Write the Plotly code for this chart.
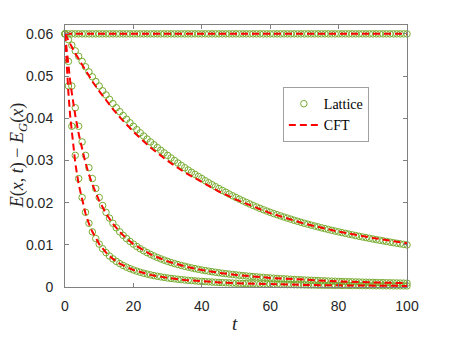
import plotly.graph_objects as go

# lattice sampling times (one point per unit time)
t = list(range(0, 101))

# lattice data, one list per quench
lat_const = [0.06] * 101

lat_slow = [
    0.06000, 0.05862, 0.05731, 0.05597, 0.05469, 0.05347, 0.05220, 0.05099, 0.04982, 0.04871,
    0.04764, 0.04651, 0.04552, 0.04448, 0.04347, 0.04249, 0.04155, 0.04064, 0.03977, 0.03892,
    0.03810, 0.03730, 0.03654, 0.03579, 0.03507, 0.03438, 0.03370, 0.03305, 0.03241, 0.03180,
    0.03120, 0.03058, 0.02998, 0.02939, 0.02882, 0.02827, 0.02773, 0.02720, 0.02669, 0.02619,
    0.02570, 0.02520, 0.02472, 0.02424, 0.02378, 0.02333, 0.02289, 0.02246, 0.02203, 0.02162,
    0.02122, 0.02082, 0.02043, 0.02005, 0.01968, 0.01932, 0.01898, 0.01865, 0.01832, 0.01801,
    0.01770, 0.01741, 0.01713, 0.01686, 0.01659, 0.01633, 0.01608, 0.01582, 0.01558, 0.01534,
    0.01510, 0.01488, 0.01466, 0.01445, 0.01424, 0.01403, 0.01383, 0.01364, 0.01344, 0.01325,
    0.01307, 0.01288, 0.01271, 0.01253, 0.01236, 0.01219, 0.01202, 0.01186, 0.01170, 0.01154,
    0.01138, 0.01123, 0.01108, 0.01094, 0.01079, 0.01065, 0.01051, 0.01037, 0.01024, 0.01010,
    0.00997,
]

lat_mid = [
    0.06000, 0.05347, 0.04764, 0.04249, 0.03810, 0.03438, 0.03120, 0.02827, 0.02570, 0.02333,
    0.02122, 0.01932, 0.01770, 0.01633, 0.01510, 0.01403, 0.01307, 0.01224, 0.01148, 0.01080,
    0.01017, 0.009600, 0.009074, 0.008590, 0.008144, 0.007732, 0.007350, 0.006996, 0.006667, 0.006360,
    0.006074, 0.005807, 0.005558, 0.005324, 0.005104, 0.004898, 0.004704, 0.004521, 0.004349, 0.004187,
    0.004033, 0.003888, 0.003750, 0.003620, 0.003496, 0.003378, 0.003267, 0.003160, 0.003059, 0.002963,
    0.002871, 0.002783, 0.002700, 0.002620, 0.002543, 0.002470, 0.002400, 0.002333, 0.002269, 0.002207,
    0.002148, 0.002091, 0.002036, 0.001983, 0.001933, 0.001884, 0.001838, 0.001792, 0.001749, 0.001707,
    0.001667, 0.001628, 0.001590, 0.001554, 0.001519, 0.001485, 0.001452, 0.001420, 0.001389, 0.001360,
    0.001331, 0.001303, 0.001276, 0.001250, 0.001224, 0.001200, 0.001176, 0.001153, 0.001130, 0.001108,
    0.001087, 0.001067, 0.001047, 0.001027, 0.001008, 0.000990, 0.000972, 0.000954, 0.000938, 0.000921,
    0.000905,
]

lat_fast = [
    0.06000, 0.04764, 0.03810, 0.03120, 0.02570, 0.02122, 0.01770, 0.01510, 0.01307, 0.01148,
    0.01017, 0.009074, 0.008144, 0.007350, 0.006667, 0.006074, 0.005558, 0.005104, 0.004704, 0.004349,
    0.004033, 0.003750, 0.003496, 0.003267, 0.003059, 0.002871, 0.002700, 0.002543, 0.002400, 0.002269,
    0.002148, 0.002036, 0.001933, 0.001838, 0.001749, 0.001667, 0.001590, 0.001519, 0.001452, 0.001389,
    0.001331, 0.001276, 0.001224, 0.001176, 0.001130, 0.001087, 0.001047, 0.001008, 0.000972, 0.000938,
    0.000905, 0.000874, 0.000845, 0.000817, 0.000790, 0.000765, 0.000741, 0.000718, 0.000696, 0.000675,
    0.000655, 0.000636, 0.000618, 0.000600, 0.000583, 0.000567, 0.000552, 0.000537, 0.000523, 0.000509,
    0.000496, 0.000483, 0.000471, 0.000459, 0.000448, 0.000437, 0.000427, 0.000417, 0.000407, 0.000398,
    0.000388, 0.000380, 0.000371, 0.000363, 0.000355, 0.000347, 0.000340, 0.000333, 0.000326, 0.000319,
    0.000312, 0.000306, 0.000300, 0.000294, 0.000288, 0.000283, 0.000277, 0.000272, 0.000267, 0.000262,
    0.000257,
]

# CFT curves (sampled more finely at early times)
t_cft = [0, 0.25, 0.5, 0.75, 1, 1.5, 2, 2.5, 3, 4, 5, 6, 7, 8, 10, 12, 14, 16, 18, 20,
         25, 30, 35, 40, 45, 50, 60, 70, 80, 90, 100]

cft_const = [0.06] * len(t_cft)

cft_slow = [0.06, 0.05957, 0.05915, 0.05873, 0.05842, 0.05761, 0.05691, 0.05613, 0.05537, 0.05399,
            0.05257, 0.05130, 0.04999, 0.04872, 0.04644, 0.04422, 0.04217, 0.04025, 0.03847, 0.03680,
            0.03308, 0.02990, 0.02717, 0.02480, 0.02263, 0.02072, 0.01750, 0.01500, 0.01312, 0.01163,
            0.01037]

cft_mid = [0.06, 0.05791, 0.05593, 0.05405, 0.05227, 0.04895, 0.04594, 0.04320, 0.04069, 0.03630,
           0.03258, 0.02940, 0.02667, 0.02430, 0.02042, 0.01740, 0.01500, 0.01307, 0.01148, 0.01017,
           0.007732, 0.006074, 0.004898, 0.004033, 0.003378, 0.002871, 0.002148, 0.001667, 0.001331, 0.001087,
           0.000905]

cft_fast = [0.06, 0.05593, 0.05227, 0.04895, 0.04594, 0.04069, 0.03630, 0.03258, 0.02940, 0.02430,
            0.02042, 0.01740, 0.01500, 0.01307, 0.01017, 0.008144, 0.006667, 0.005558, 0.004704, 0.004033,
            0.002871, 0.002148, 0.001667, 0.001331, 0.001087, 0.000905, 0.000655, 0.000496, 0.000388, 0.000312,
            0.000257]

green = "#77AC30"
red = "#FF0000"
axis_gray = "#808080"
text_col = "#262626"

fig = go.Figure()

# lattice first, so the red dashes sit on top of the circles
for i, ys in enumerate([lat_const, lat_slow, lat_mid, lat_fast]):
    fig.add_trace(go.Scatter(
        x=t, y=ys, mode="markers", name="Lattice",
        showlegend=(i == 0), cliponaxis=False,
        marker=dict(symbol="circle-open", size=6.5, color=green, line=dict(width=1, color=green)),
    ))

for i, ys in enumerate([cft_const, cft_slow, cft_mid, cft_fast]):
    fig.add_trace(go.Scatter(
        x=t_cft, y=ys, mode="lines", name="CFT",
        showlegend=(i == 0),
        line=dict(color=red, width=2, dash="7px,4px"),
    ))

axis_common = dict(
    showline=True, linecolor=axis_gray, linewidth=1, mirror="ticks",
    ticks="inside", ticklen=4, tickcolor=axis_gray, tickwidth=1,
    showgrid=False, zeroline=False,
    tickfont=dict(family="Liberation Sans, Arial, sans-serif", size=14, color=text_col),
)

# the page body adds an 8px offset, so margins are 8px smaller on left/top
fig.update_layout(
    width=450, height=338,
    margin=dict(l=57, r=51, t=17, b=59),
    paper_bgcolor="white", plot_bgcolor="white",
    xaxis=dict(range=[0, 100], tickvals=[0, 20, 40, 60, 80, 100], ticklabelstandoff=6, **axis_common),
    yaxis=dict(range=[0, 0.0621], tickvals=[0, 0.01, 0.02, 0.03, 0.04, 0.05, 0.06],
               ticktext=["0", "0.01", "0.02", "0.03", "0.04", "0.05", "0.06"],
               ticklabelstandoff=8, **axis_common),
    legend=dict(
        x=0.637, y=0.763, xanchor="left", yanchor="top",
        bgcolor="white", bordercolor="#a0a0a0", borderwidth=1,
        font=dict(family="Liberation Serif, Times New Roman, serif", size=14, color="black"),
        tracegroupgap=0, itemwidth=30,
    ),
    showlegend=True,
    annotations=[
        dict(text="<i>E</i>(<i>x</i>, <i>t</i>) \u2212 <i>E</i><sub><i>G</i></sub>(<i>x</i>)",
             xref="paper", yref="paper", x=-0.137, y=0.5, textangle=-90,
             showarrow=False, xanchor="center", yanchor="middle",
             font=dict(family="Liberation Serif, Times New Roman, serif", size=18, color=text_col)),
        dict(text="<i>t</i>", xref="paper", yref="paper", x=0.497, y=-0.141,
             showarrow=False, xanchor="center", yanchor="middle",
             font=dict(family="Liberation Serif, Times New Roman, serif", size=19, color=text_col)),
    ],
)

fig.write_html("out.html")
